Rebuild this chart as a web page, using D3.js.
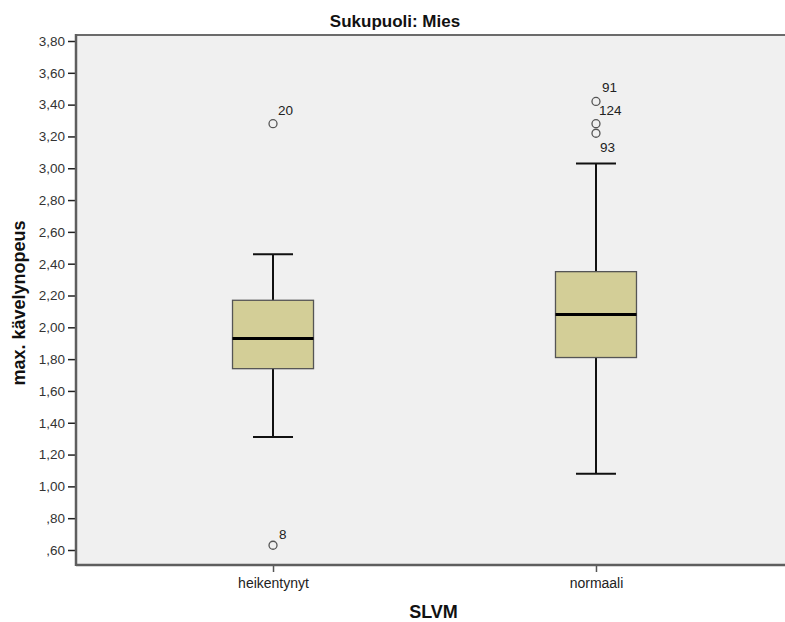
<!DOCTYPE html>
<html>
<head>
<meta charset="utf-8">
<script src="https://cdn.jsdelivr.net/npm/d3@7"></script>
<style>
  body { margin: 0; background: #fff; }
  svg { display: block; font-family: "Liberation Sans", Arial, sans-serif; }
</style>
</head>
<body>
<svg id="chart" width="785" height="622"></svg>
<script>
// values
const categories = ["heikentynyt", "normaali"];
const whiskerLow = [1.31, 1.08];
const q1 = [1.74, 1.81];
const median = [1.93, 2.08];
const q3 = [2.17, 2.35];
const whiskerHigh = [2.46, 3.03];

const outlierCats = ["heikentynyt", "heikentynyt", "normaali", "normaali", "normaali"];
const outlierValues = [3.28, 0.63, 3.42, 3.28, 3.22];
const outlierIds = ["20", "8", "91", "124", "93"];

const yTicks = [0.6, 0.8, 1.0, 1.2, 1.4, 1.6, 1.8, 2.0, 2.2, 2.4, 2.6, 2.8, 3.0, 3.2, 3.4, 3.6, 3.8];

const svg = d3.select("#chart");
const plotL = 76, plotR = 793, plotT = 35, plotB = 565;

const y = d3.scaleLinear().domain([0.6, 3.8]).range([550, 41]);
const x = d3.scalePoint().domain(categories).range([plotL, plotR]).padding(0.61);

const fmt = v => d3.format(".2f")(v).replace(".", ",").replace(/^0/, "");

// plot background
svg.append("rect")
  .attr("x", plotL).attr("y", plotT)
  .attr("width", plotR - plotL).attr("height", plotB - plotT)
  .attr("fill", "#f0f0f0");

// top border
svg.append("line")
  .attr("x1", plotL).attr("x2", plotR).attr("y1", plotT).attr("y2", plotT)
  .attr("stroke", "#6b6b6b").attr("stroke-width", 2);

// y axis
const yAxis = svg.append("g")
  .attr("transform", `translate(${plotL},0)`)
  .call(d3.axisLeft(y).tickValues(yTicks).tickFormat(fmt).tickSize(8).tickPadding(3));
yAxis.select(".domain").remove();
yAxis.selectAll(".tick line").attr("stroke", "#222").attr("stroke-width", 1.5);
yAxis.selectAll(".tick text").attr("fill", "#333").style("font-size", "13.5px")
  .style("font-family", "Liberation Sans, Arial, sans-serif");
svg.append("line")
  .attr("x1", plotL).attr("x2", plotL).attr("y1", plotT - 1).attr("y2", plotB + 1)
  .attr("stroke", "#5e5e5e").attr("stroke-width", 2.5);

// x axis
const xAxis = svg.append("g")
  .attr("transform", `translate(0,${plotB})`)
  .call(d3.axisBottom(x).tickSize(7).tickPadding(6));
xAxis.select(".domain").remove();
xAxis.selectAll(".tick line").attr("stroke", "#555").attr("stroke-width", 1.5);
xAxis.selectAll(".tick text").attr("fill", "#222").style("font-size", "14px")
  .style("font-family", "Liberation Sans, Arial, sans-serif");
svg.append("line")
  .attr("x1", plotL).attr("x2", plotR).attr("y1", plotB).attr("y2", plotB)
  .attr("stroke", "#5e5e5e").attr("stroke-width", 2.5);

// boxes
const boxW = 81, capW = 40;
const g = svg.append("g");
categories.forEach((c, i) => {
  const cx = x(c);
  // whiskers
  g.append("line").attr("x1", cx).attr("x2", cx)
    .attr("y1", y(whiskerHigh[i])).attr("y2", y(q3[i]))
    .attr("stroke", "#111").attr("stroke-width", 2);
  g.append("line").attr("x1", cx).attr("x2", cx)
    .attr("y1", y(q1[i])).attr("y2", y(whiskerLow[i]))
    .attr("stroke", "#111").attr("stroke-width", 2);
  [whiskerHigh[i], whiskerLow[i]].forEach(v => {
    g.append("line").attr("x1", cx - capW / 2).attr("x2", cx + capW / 2)
      .attr("y1", y(v)).attr("y2", y(v))
      .attr("stroke", "#111").attr("stroke-width", 2);
  });
  g.append("rect")
    .attr("x", cx - boxW / 2).attr("y", y(q3[i]))
    .attr("width", boxW).attr("height", y(q1[i]) - y(q3[i]))
    .attr("fill", "#d3ce97").attr("stroke", "#555").attr("stroke-width", 1.3);
  g.append("line").attr("x1", cx - boxW / 2).attr("x2", cx + boxW / 2)
    .attr("y1", y(median[i])).attr("y2", y(median[i]))
    .attr("stroke", "#000").attr("stroke-width", 3);
});

// outliers
const labelShift = { "20": [5, -9], "8": [6, -6], "91": [6, -9], "124": [3, -9], "93": [4, 19] };
outlierValues.forEach((v, i) => {
  const cx = x(outlierCats[i]), cy = y(v);
  g.append("circle").attr("cx", cx).attr("cy", cy).attr("r", 4)
    .attr("fill", "none").attr("stroke", "#555").attr("stroke-width", 1.3);
  const s = labelShift[outlierIds[i]];
  g.append("text").attr("x", cx + s[0]).attr("y", cy + s[1])
    .attr("fill", "#222").style("font-size", "13.5px")
    .text(outlierIds[i]);
});

// titles
svg.append("text").attr("x", 395).attr("y", 27).attr("text-anchor", "middle")
  .style("font-size", "17px").style("font-weight", "bold").attr("fill", "#111")
  .text("Sukupuoli: Mies");
svg.append("text").attr("transform", "translate(25,303) rotate(-90)")
  .attr("text-anchor", "middle")
  .style("font-size", "18px").style("font-weight", "bold").attr("fill", "#111")
  .text("max. kävelynopeus");
svg.append("text").attr("x", (plotL + plotR) / 2 - 1).attr("y", 618).attr("text-anchor", "middle")
  .style("font-size", "18px").style("font-weight", "bold").attr("fill", "#111")
  .text("SLVM");
</script>
</body>
</html>
